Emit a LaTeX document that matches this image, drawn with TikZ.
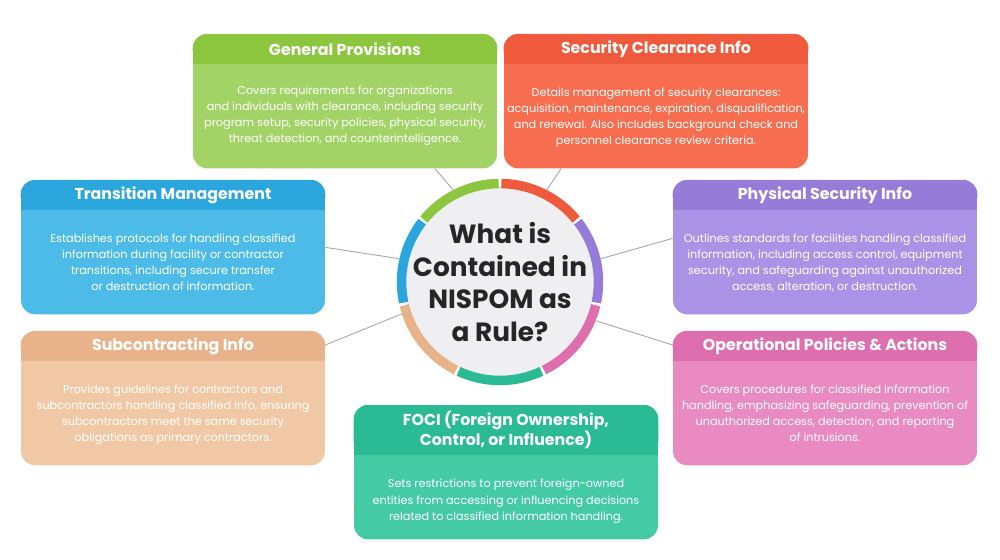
\documentclass[tikz,border=0pt]{standalone}
\usepackage{fontspec}
\setmainfont{Poppins}
\usetikzlibrary{positioning}
\definecolor{gpH}{HTML}{8CC63F}\definecolor{gpB}{HTML}{A3D267}
\definecolor{scH}{HTML}{F05A3C}\definecolor{scB}{HTML}{F66E4F}
\definecolor{tmH}{HTML}{2AA6DC}\definecolor{tmB}{HTML}{4DBBE8}
\definecolor{psH}{HTML}{977BD8}\definecolor{psB}{HTML}{AA92E6}
\definecolor{siH}{HTML}{E8B38B}\definecolor{siB}{HTML}{F1C8A5}
\definecolor{opH}{HTML}{DE6FAE}\definecolor{opB}{HTML}{E98BC1}
\definecolor{foH}{HTML}{2BBB94}\definecolor{foB}{HTML}{45CBA4}
\definecolor{ringbg}{HTML}{EFEFF1}
\newcommand{\infobox}[8]{%
  \node[box, fill=#7] (#1) at (#2,#3) {};
  \fill[#6, rounded corners=8] (#1.north west) rectangle ([yshift=#8]#1.north east);
  \fill[#6] ([yshift=#8]#1.north west) rectangle ([yshift=#8+0.2cm]#1.north east);
  \node[hdr] (#1h) at ([yshift=#8/2]#1.north) {#4};
  \node[txt, below=0.36cm of #1h.south] (#1t) {#5};
}
\begin{document}
\begin{tikzpicture}[x=0.02cm, y=-0.02cm]
    \tikzset{
        box/.style = {rectangle, rounded corners=8, minimum width=6.08cm, minimum height=2.68cm, anchor=north},
        hdr/.style = {text=white, font=\fontsize{9}{11.5}\selectfont\bfseries, align=center},
        txt/.style = {text=white, font=\fontsize{6.4}{9.2}\selectfont, align=center, anchor=north},
        link/.style = {draw=gray!70, line width=0.5pt},
        seg/.style = {line width=0.19cm},
    }
    \useasboundingbox (0,0) rectangle (1000,560);
    % center ring
    \coordinate (c) at (500,282);
    \fill[ringbg] (c) circle (1.9cm);
    \foreach \col [count=\i] in {scH,psH,opH,foH,siH,tmH,gpH} {
        \pgfmathsetmacro{\a}{90-(\i-1)*360/7-0.8}
        \pgfmathsetmacro{\b}{90-\i*360/7+0.8}
        \draw[seg, \col] ([shift={(\a:1.97cm)}]c) arc[start angle=\a, end angle=\b, radius=1.97cm];
    }
    \node[align=center, font=\fontsize{15}{18.6}\selectfont\bfseries, text=black!85] (title) at (c) {What is\\Contained in\\NISPOM as\\a Rule?};
    %
    \infobox{gp}{345}{34}{General Provisions}{Covers requirements for organizations\\and individuals with clearance, including security\\program setup, security policies, physical security,\\threat detection, and counterintelligence.}{gpH}{gpB}{-0.6cm}
    \infobox{sc}{656}{34}{Security Clearance Info}{Details management of security clearances:\\acquisition, maintenance, expiration, disqualification,\\and renewal. Also includes background check and\\personnel clearance review criteria.}{scH}{scB}{-0.6cm}
    \infobox{tm}{173}{180}{Transition Management}{Establishes protocols for handling classified\\information during facility or contractor\\transitions, including secure transfer\\or destruction of information.}{tmH}{tmB}{-0.6cm}
    \infobox{ps}{825}{180}{Physical Security Info}{Outlines standards for facilities handling classified\\information, including access control, equipment\\security, and safeguarding against unauthorized\\access, alteration, or destruction.}{psH}{psB}{-0.6cm}
    \infobox{si}{173}{331}{Subcontracting Info}{Provides guidelines for contractors and\\subcontractors handling classified info, ensuring\\subcontractors meet the same security\\obligations as primary contractors.}{siH}{siB}{-0.6cm}
    \infobox{op}{825}{331}{Operational Policies \& Actions}{Covers procedures for classified information\\handling, emphasizing safeguarding, prevention of\\unauthorized access, detection, and reporting\\of intrusions.}{opH}{opB}{-0.6cm}
    \infobox{fo}{506}{405}{FOCI (Foreign Ownership,\\Control, or Influence)}{Sets restrictions to prevent foreign-owned\\entities from accessing or influencing decisions\\related to classified information handling.}{foH}{foB}{-1.0cm}
    %
    \coordinate (r1) at ([shift={(117:2.07cm)}]c);
    \coordinate (r2) at ([shift={(63:2.07cm)}]c);
    \coordinate (r3) at ([shift={(167:2.07cm)}]c);
    \coordinate (r4) at ([shift={(13:2.07cm)}]c);
    \coordinate (r5) at ([shift={(198:2.07cm)}]c);
    \coordinate (r6) at ([shift={(-22:2.07cm)}]c);
    \draw[link] ([xshift=1.8cm]gp.south) -- (r1);
    \draw[link] ([xshift=-1.9cm]sc.south) -- (r2);
    \draw[link] (tm.east) -- (r3);
    \draw[link] ([yshift=0.18cm]ps.west) -- (r4);
    \draw[link] ([yshift=-0.28cm]si.north east) -- (r5);
    \draw[link] ([yshift=-0.28cm]op.north west) -- (r6);
\end{tikzpicture}
\end{document}
